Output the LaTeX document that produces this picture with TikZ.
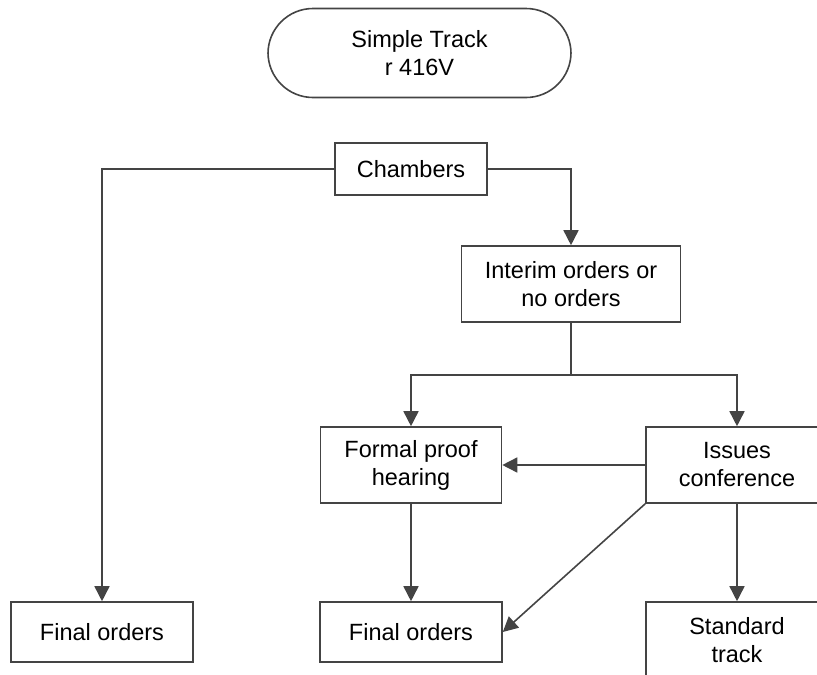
\documentclass[tikz,border=0pt]{standalone}
\usepackage{fontspec}
\setmainfont{Liberation Sans}
\usetikzlibrary{arrows.meta}
\definecolor{edgegray}{HTML}{444444}
\tikzset{
  box/.style={draw=edgegray, line width=1.6pt, fill=white, align=center,
    inner sep=0pt, font=\fontsize{23.5}{28}\selectfont},
  flow/.style={draw=edgegray, line width=1.6pt,
    -{Triangle[length=15pt,width=15pt]}}
}
\begin{document}
\begin{tikzpicture}[x=1pt,y=-1pt]
      \useasboundingbox (0,0) rectangle (817,675);
      \clip (0,0) rectangle (817,675);
      \node[box, rounded corners=45pt, minimum width=303pt, minimum height=89pt]
        (start) at (419.5,53) {Simple Track\\r 416V};
      \node[box, minimum width=152pt, minimum height=52pt]
        (chambers) at (411,169) {Chambers};
      \node[box, minimum width=219pt, minimum height=76pt]
        (interim) at (571,284) {Interim orders or\\no orders};
      \node[box, minimum width=181pt, minimum height=76pt]
        (formal) at (411,465) {Formal proof\\hearing};
      \node[box, minimum width=182pt, minimum height=76pt]
        (issues) at (737,465) {Issues\\conference};
      \node[box, minimum width=182pt, minimum height=60pt]
        (final1) at (102,632) {Final orders};
      \node[box, minimum width=182pt, minimum height=60pt]
        (final2) at (411,632) {Final orders};
      \node[box, minimum width=182pt, minimum height=76pt]
        (standard) at (737,640) {Standard\\track};
      \coordinate (split) at (571,375);
      \begin{scope}[flow]
        \draw (chambers.west) -| (final1.north);
        \draw (chambers.east) -| (interim.north);
        \draw[-] (interim.south) to (split);
        \draw (split) -| (formal.north);
        \draw (split) -| (issues.north);
        \draw (issues.west) to (formal.east);
        \draw (issues.south west) to (final2.east);
        \draw (formal.south) to (final2.north);
        \draw (issues.south) to (standard.north);
      \end{scope}
    \end{tikzpicture}
\end{document}
